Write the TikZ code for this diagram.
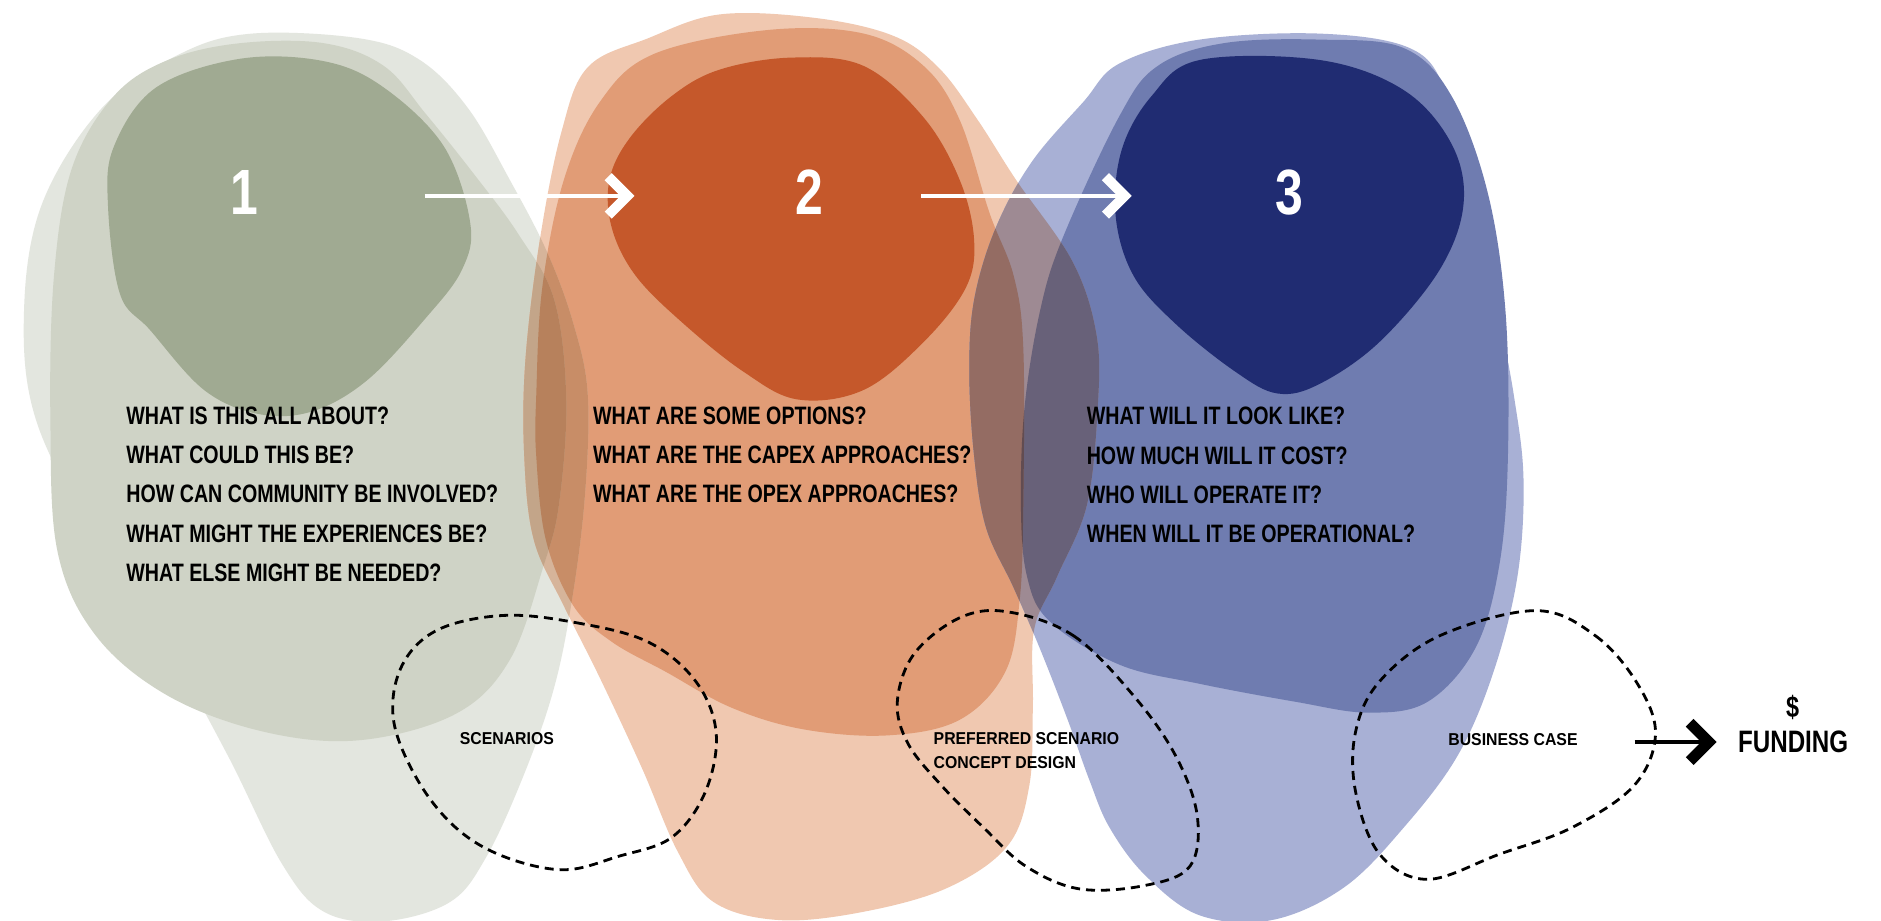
\documentclass[tikz,border=0pt]{standalone}
\usepackage{fontspec}
\newfontfamily\qfont{Liberation Sans}[FakeStretch=0.78]
\newfontfamily\lfont{Liberation Sans}[FakeStretch=0.92]
\usetikzlibrary{calc}
% base colours
\definecolor{gLight}{RGB}{227,230,223}
\definecolor{gMid}{RGB}{207,211,198}
\definecolor{gDark}{RGB}{160,170,146}
\definecolor{oLight}{RGB}{240,200,176}
\definecolor{oMid}{RGB}{225,156,118}
\definecolor{oDark}{RGB}{197,88,43}
\definecolor{bLight}{RGB}{168,176,213}
\definecolor{bMid}{RGB}{111,124,176}
\definecolor{bDark}{RGB}{32,44,114}
% orange multiplied onto green
\definecolor{gLoL}{RGB}{214,180,154}
\definecolor{gLoM}{RGB}{200,141,103}
\definecolor{gLoD}{RGB}{175,79,38}
\definecolor{gMoL}{RGB}{195,165,137}
\definecolor{gMoM}{RGB}{183,129,92}
\definecolor{gMoD}{RGB}{160,73,33}
\definecolor{gDoL}{RGB}{151,133,101}
\definecolor{gDoM}{RGB}{141,104,68}
\definecolor{gDoD}{RGB}{124,59,25}
% blue multiplied onto orange
\definecolor{oLbL}{RGB}{158,138,147}
\definecolor{oLbM}{RGB}{104,97,121}
\definecolor{oLbD}{RGB}{30,35,79}
\definecolor{oMbL}{RGB}{148,108,99}
\definecolor{oMbM}{RGB}{98,76,81}
\definecolor{oMbD}{RGB}{28,27,53}
\definecolor{oDbL}{RGB}{130,61,36}
\definecolor{oDbM}{RGB}{86,43,30}
\definecolor{oDbD}{RGB}{25,15,19}
\tikzset{
  blob/.style={smooth cycle, tension=0.6},
  qtext/.style={anchor=base west, inner sep=0pt, text=black, font=\qfont\bfseries\fontsize{12.6}{14}\selectfont},
  ltext/.style={anchor=base west, inner sep=0pt, text=black, font=\lfont\bfseries\fontsize{8.6}{10}\selectfont},
  numtext/.style={anchor=base, inner sep=0pt, text=white, font=\qfont\bfseries\fontsize{32}{36}\selectfont},
  wshaft/.style={draw=white, line width=2pt},
  wchev/.style={draw=white, line width=5pt, miter limit=10},
  kshaft/.style={draw=black, line width=1.7pt},
  kchev/.style={draw=black, line width=5.5pt, miter limit=10},
  dashblob/.style={draw=black, line width=1.4pt, dash pattern=on 4.5pt off 3pt}
}
% blob outlines
\def\pGL{plot[blob] coordinates {(150,45) (210,28) (300,32) (350,50) (390,90) (425,150) (456,210) (478,270) (490,330) (487,420) (475,511) (460,580) (435,650) (405,715) (375,752) (320,768) (270,760) (235,720) (190,630) (140,540) (80,450) (30,350) (20,260) (35,170) (85,90)}}
\def\pGM{plot[blob] coordinates {(140,50) (200,36) (270,36) (320,55) (355,95) (395,145) (432,195) (462,250) (472,333) (466,420) (453,472) (425,550) (380,595) (300,617) (220,610) (140,580) (80,530) (48,460) (42,350) (45,230) (60,140) (95,80)}}
\def\pGD{plot[blob] coordinates {(200,49) (270,51) (320,73) (370,122) (392,186) (385,225) (355,265) (306,317) (260,343) (215,345) (170,325) (125,275) (100,245) (90,171) (95,122) (130,73)}}
\def\pOL{plot[blob] coordinates {(490,56) (540,32) (600,12) (680,15) (745,30) (783,57) (815,100) (847,150) (894,218) (914,279) (915,340) (906,421) (881,481) (862,525) (861,590) (858,655) (840,705) (790,740) (720,760) (650,767) (595,752) (565,710) (535,640) (500,565) (470,505) (445,450) (437,380) (438,300) (450,200) (468,110)}}
\def\pOM{plot[blob] coordinates {(545,45) (640,25) (720,28) (770,55) (800,100) (825,178) (845,230) (853,290) (853,420) (850,500) (838,560) (800,600) (740,613) (670,608) (610,590) (555,560) (510,535) (478,505) (455,450) (447,380) (447,330) (452,240) (470,150) (500,85)}}
\def\pOD{plot[blob] coordinates {(600,58) (660,48) (720,55) (770,98) (800,150) (812,200) (805,240) (770,285) (720,325) (665,333) (620,310) (570,270) (530,230) (510,190) (508,150) (525,115) (560,80)}}
\def\pBL{plot[blob] coordinates {(933,53) (1000,33) (1100,28) (1175,40) (1205,75) (1228,150) (1247,250) (1262,330) (1270,400) (1265,480) (1245,560) (1215,630) (1170,690) (1120,740) (1060,767) (1000,763) (955,730) (925,690) (908,650) (890,600) (867,541) (845,490) (822,440) (812,380) (808,310) (812,250) (830,190) (860,135) (903,85)}}
\def\pBM{plot[blob] coordinates {(933,97) (965,55) (1020,36) (1100,33) (1170,40) (1210,80) (1240,160) (1255,260) (1257,380) (1250,470) (1230,540) (1190,585) (1140,594) (1080,585) (1000,570) (933,554) (875,518) (856,480) (851,421) (854,340) (867,259) (886,198)}}
\def\pBD{plot[blob] coordinates {(1000,50) (1100,50) (1170,75) (1210,120) (1220,170) (1200,225) (1150,285) (1100,320) (1065,328) (1030,310) (980,270) (945,230) (930,180) (935,125) (960,80)}}
\begin{document}
\begin{tikzpicture}[x=0.6pt,y=-0.6pt]
\useasboundingbox (0,0) rectangle (1568,767);
\fill[white] (0,0) rectangle (1568,767);
% ---- green group ----
\fill[gLight] \pGL;
\fill[gMid] \pGM;
\fill[gDark] \pGD;
% ---- orange group ----
\fill[oLight] \pOL;
\fill[oMid] \pOM;
\fill[oDark] \pOD;
% orange seen through green (multiplied)
\begin{scope}\clip \pGL; \fill[gLoL] \pOL; \fill[gLoM] \pOM; \fill[gLoD] \pOD; \end{scope}
\begin{scope}\clip \pGM; \fill[gMoL] \pOL; \fill[gMoM] \pOM; \fill[gMoD] \pOD; \end{scope}
\begin{scope}\clip \pGD; \fill[gDoL] \pOL; \fill[gDoM] \pOM; \fill[gDoD] \pOD; \end{scope}
% ---- blue group ----
\fill[bLight] \pBL;
\fill[bMid] \pBM;
\fill[bDark] \pBD;
% blue seen through orange (multiplied)
\begin{scope}\clip \pOL; \fill[oLbL] \pBL; \fill[oLbM] \pBM; \fill[oLbD] \pBD; \end{scope}
\begin{scope}\clip \pOM; \fill[oMbL] \pBL; \fill[oMbM] \pBM; \fill[oMbD] \pBD; \end{scope}
\begin{scope}\clip \pOD; \fill[oDbL] \pBL; \fill[oDbM] \pBM; \fill[oDbD] \pBD; \end{scope}
% ---- dashed blobs ----
\draw[dashblob] plot[blob] coordinates {(420,513) (480,519) (540,535) (580,568) (597,611) (588,660) (560,698) (515,714) (470,725) (420,714) (380,690) (348,650) (328,600) (335,555) (365,525)};
\draw[dashblob] plot[blob] coordinates {(840,510) (895,530) (945,580) (980,630) (998,680) (992,722) (955,738) (900,741) (855,722) (820,690) (785,655) (757,620) (748,585) (762,545) (800,515)};
\draw[dashblob] plot[blob] coordinates {(1280,509) (1330,530) (1365,570) (1380,612) (1362,655) (1310,690) (1250,712) (1190,733) (1150,712) (1130,660) (1130,610) (1150,568) (1200,530)};
% ---- numbers ----
\node[numtext] (n1) at (203.5,179) {1};
\node[numtext] (n2) at (675,179) {2};
\node[numtext] (n3) at (1075,179) {3};
% ---- white arrows ----
\coordinate (a1s) at (354,163.3);
\coordinate (a1e) at (523,163.3);
\coordinate (a2s) at (768,163.3);
\coordinate (a2e) at (937.5,163.3);
\draw[wshaft] (a1s) -- (a1e);
\draw[wchev] ($(a1e)+(-16,-16)$) -- (a1e) -- ($(a1e)+(-16,16)$);
\draw[wshaft] (a2s) -- (a2e);
\draw[wchev] ($(a2e)+(-16,-16)$) -- (a2e) -- ($(a2e)+(-16,16)$);
% ---- questions ----
\node[qtext] (q11) at (105,353.5) {WHAT IS THIS ALL ABOUT?};
\node[qtext] (q12) at (105,386.3) {WHAT COULD THIS BE?};
\node[qtext] (q13) at (105,419.1) {HOW CAN COMMUNITY BE INVOLVED?};
\node[qtext] (q14) at (105,451.9) {WHAT MIGHT THE EXPERIENCES BE?};
\node[qtext] (q15) at (105,484.7) {WHAT ELSE MIGHT BE NEEDED?};
\node[qtext] (q21) at (494,353.5) {WHAT ARE SOME OPTIONS?};
\node[qtext] (q22) at (494,386.3) {WHAT ARE THE CAPEX APPROACHES?};
\node[qtext] (q23) at (494,419.1) {WHAT ARE THE OPEX APPROACHES?};
\node[qtext] (q31) at (905.6,354) {WHAT WILL IT LOOK LIKE?};
\node[qtext] (q32) at (905.6,386.8) {HOW MUCH WILL IT COST?};
\node[qtext] (q33) at (905.6,419.6) {WHO WILL OPERATE IT?};
\node[qtext] (q34) at (905.6,452.4) {WHEN WILL IT BE OPERATIONAL?};
% ---- labels ----
\node[ltext] (l1) at (383,621) {SCENARIOS};
\node[ltext] (l2a) at (778,621) {PREFERRED SCENARIO};
\node[ltext] (l2b) at (778,641) {CONCEPT DESIGN};
\node[ltext] (l3) at (1207,621.4) {BUSINESS CASE};
% ---- funding ----
\node[anchor=base west, inner sep=0pt, font=\qfont\bfseries\fontsize{15.5}{18}\selectfont] (fund) at (1448.5,627.2) {FUNDING};
\node[anchor=base, inner sep=0pt, font=\qfont\bfseries\fontsize{15}{17}\selectfont] (dollar) at (1494.4,598) {\$};
\coordinate (bs) at (1362.5,618.5);
\coordinate (be) at (1424.5,618.5);
\draw[kshaft] (bs) -- (be);
\draw[kchev] ($(be)+(-16,-16)$) -- (be) -- ($(be)+(-16,16)$);
\end{tikzpicture}
\end{document}
